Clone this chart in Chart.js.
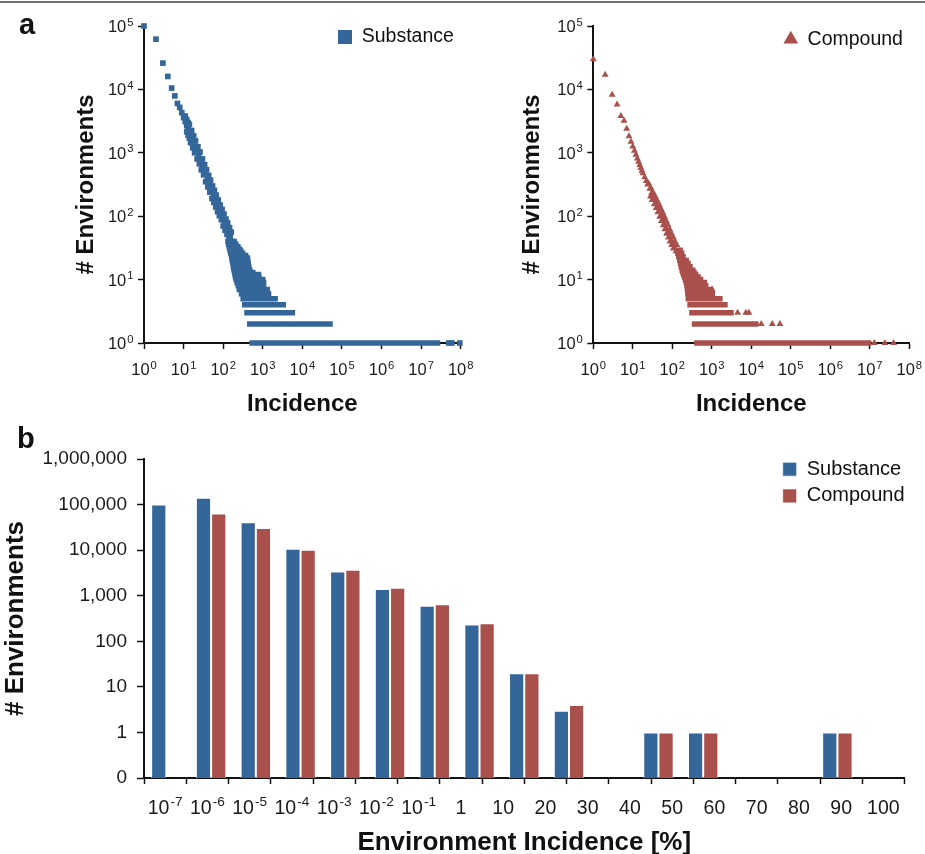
<!DOCTYPE html>
<html>
<head>
<meta charset="utf-8">
<script src="https://cdn.jsdelivr.net/npm/chart.js@4.4.1/dist/chart.umd.min.js"></script>
<style>
  html, body { margin: 0; padding: 0; background: #fff; }
  #page { position: relative; width: 925px; height: 854px; overflow: hidden; font-family: "Liberation Sans", Arial, sans-serif; }
  .rule { position: absolute; left: 0; top: 1px; width: 925px; height: 2px; background: #707070; }
  .panel { position: absolute; font-weight: bold; font-size: 29px; line-height: 29px; color: #111; }
  .box { position: absolute; }
</style>
</head>
<body>
<div id="page">
  <div class="rule"></div>
  <div class="box" style="left:0;top:0"><canvas id="chart_sub" width="480" height="425"></canvas></div>
  <div class="box" style="left:460px;top:0"><canvas id="chart_cmp" width="465" height="425"></canvas></div>
  <div class="box" style="left:0;top:425px"><canvas id="chart_bins" width="925" height="429"></canvas></div>
  <div class="panel" style="left:19px;top:10px">a</div>
  <div class="panel" style="left:17px;top:424px">b</div>
</div>
<script>
const FONT = '"Liberation Sans", Arial, sans-serif';
const BLUE = "#346699";
const RED = "#a9504c";

// ---- panel a: incidence vs number of environments (log-log) ----
// "^" marks the exponent, drawn raised
const decadeTicks = [1, 10, 100, 1e3, 1e4, 1e5, 1e6, 1e7, 1e8];
const decadeLabels = ["10^0", "10^1", "10^2", "10^3", "10^4", "10^5", "10^6", "10^7", "10^8"];
const envTicks = [1, 10, 100, 1e3, 1e4, 1e5];
const envLabels = ["10^0", "10^1", "10^2", "10^3", "10^4", "10^5"];

// [incidence, # environments]
const substancePoints = [
  [1, 100000], [2, 62000], [3, 26000], [4, 16000], [5, 10500], [6, 7900], [7, 6000],
  [8, 5200], [9, 4300], [10, 3600], [11, 3100], [12, 2700], [13, 2400], [14, 2150],
  [15, 1900], [16, 1700], [17, 1550], [18, 1430], [19, 1300], [20, 1200], [22, 1040],
  [24, 900], [26, 790], [28, 700], [30, 620], [33, 530], [36, 460], [40, 385], [44, 330],
  [48, 285], [52, 250], [57, 215], [62, 190], [68, 165], [75, 140], [82, 123], [90, 106],
  [100, 90], [110, 78], [120, 68], [130, 59], [140, 52], [150, 47], [165, 40],
  [11, 3800], [12, 3350], [13, 3000], [14, 2800], [16, 2250], [18, 1850], [20, 1550],
  [23, 1250], [26, 1030], [30, 800],
  [34, 650], [38, 540], [43, 440], [48, 370], [54, 300], [60, 255], [67, 215], [75, 180],
  [84, 150], [94, 128], [105, 108], [118, 90], [130, 78], [145, 66], [160, 56],
  [12, 2150], [13, 1900], [14, 1700], [15, 1450], [17, 1200], [19, 1000], [22, 800],
  [25, 670], [28, 540], [32, 450],
  [36, 350], [41, 290], [46, 240], [52, 190], [58, 165], [65, 140], [72, 118], [80, 102],
  [90, 88], [100, 70], [112, 60], [125, 52], [140, 46], [155, 40],
  [5.0e7, 1], [6.0e7, 1], [9.5e7, 1]
];
// runs of points sharing the same count (the horizontal rows)
const substanceRowY = [1, 2, 3, 4, 5, 6, 7, 8, 9, 10, 11, 12, 13, 14, 15, 16, 18, 20, 22, 24, 26, 28, 30, 33, 36, 40];
const substanceRowFrom = [540, 470, 400, 350, 320, 290, 255, 240, 225, 212, 205, 200, 195, 190, 185, 182, 176, 170, 166, 162, 157, 152, 148, 142, 137, 132];
const substanceRowTo = [2.6e7, 50000, 5600, 3300, 2050, 1400, 1300, 1050, 1050, 1000, 800, 780, 560, 470, 450, 440, 430, 420, 410, 370, 310, 280, 260, 235, 210, 190];

const compoundPoints = [
  [1, 30000], [2, 17000], [3, 8200], [4, 5800], [5, 3800], [6, 3200], [7, 2400],
  [8, 1830], [9, 1500], [10, 1260], [11, 1075], [12, 930], [13, 810], [14, 720],
  [15, 640], [16, 575], [17, 520], [18, 475], [20, 410], [22, 358], [24, 317], [27, 270],
  [30, 232], [33, 203], [36, 180], [40, 156], [44, 136], [48, 119], [53, 102], [58, 88],
  [64, 76], [70, 66], [77, 57], [85, 48], [93, 42], [102, 37], [112, 32], [124, 28],
  [25, 330], [29, 275], [33, 235], [37, 205], [42, 175], [47, 150], [52, 130], [58, 112],
  [64, 97], [71, 83], [78, 72], [87, 61], [96, 53], [106, 46], [117, 40], [130, 35],
  [28, 205], [31, 180], [35, 155], [39, 135], [43, 115], [48, 98], [53, 84], [59, 72],
  [65, 62], [72, 53], [80, 46], [88, 40], [97, 35], [107, 31],
  [1020, 7], [4500, 3], [7300, 3], [8700, 3], [17800, 2], [34000, 2], [53000, 2],
  [1.3e7, 1], [2.4e7, 1], [4.0e7, 1]
];
const compoundRowY = [1, 2, 3, 4, 5, 6, 7, 8, 9, 10, 11, 12, 13, 14, 16, 18, 20, 23, 26, 29];
const compoundRowFrom = [420, 365, 315, 282, 255, 248, 242, 235, 225, 214, 204, 194, 186, 178, 169, 162, 155, 146, 138, 130];
const compoundRowTo = [9.3e6, 13000, 3050, 2150, 1600, 1030, 890, 700, 650, 520, 450, 390, 355, 330, 280, 250, 225, 187, 172, 158];

// ---- panel b: environment incidence bins ----
const binEdges = ["10^-7", "10^-6", "10^-5", "10^-4", "10^-3", "10^-2", "10^-1", "1", "10", "20", "30", "40", "50", "60", "70", "80", "90", "100"];
const substanceCounts = [100000, 142000, 41000, 10700, 3400, 1400, 600, 235, 20, 3, null, 1, 1, null, null, 1, null];
const compoundCounts = [null, 64000, 30500, 10200, 3700, 1500, 650, 248, 20, 4, null, 1, 1, null, null, 1, null];
const countTicks = [0.1, 1, 10, 100, 1e3, 1e4, 1e5, 1e6];
const countLabels = ["0", "1", "10", "100", "1,000", "10,000", "100,000", "1,000,000"];

Chart.defaults.font.family = FONT;
Chart.defaults.color = "#1a1a1a";
Chart.defaults.animation = false;

// puts the (vertical) chartArea legend at a fixed spot inside the plot
const legendAt = {
  id: "legendAt",
  afterLayout(chart, args, opts) {
    const lg = chart.legend;
    if (!lg || opts.x === undefined) return;
    lg.left = opts.x;
    lg.top = opts.y;
    lg.right = opts.x + 200;
    lg.bottom = opts.y + 120;
    lg.width = 200;
    lg.height = 120;
  }
};

// tick labels with a raised exponent ("10^5"), placed at the scale's tick pixels
function supTicks(specs) {
  return {
    id: "supTicks",
    afterDraw(chart) {
      const ctx = chart.ctx;
      specs.forEach((sp) => {
        const scale = chart.scales[sp.axis];
        const eSize = sp.size * sp.ratio;
        ctx.save();
        ctx.fillStyle = "#1a1a1a";
        ctx.textAlign = "left";
        ctx.textBaseline = "alphabetic";
        sp.values.forEach((v, i) => {
          const [base, exp] = sp.labels[i].split("^");
          ctx.font = sp.size + "px " + FONT;
          const bw = ctx.measureText(base).width;
          ctx.font = eSize + "px " + FONT;
          const ew = exp ? ctx.measureText(exp).width + 1 : 0;
          const p = scale.getPixelForValue(v);
          let x0, yb;
          if (scale.isHorizontal()) {
            x0 = p - (bw + ew) / 2;
            yb = scale.top + sp.offset;
          } else {
            x0 = scale.right - sp.offset - (bw + ew);
            yb = p + sp.size * 0.36;
          }
          ctx.font = sp.size + "px " + FONT;
          ctx.fillText(base, x0, yb);
          if (exp) {
            ctx.font = eSize + "px " + FONT;
            ctx.fillText(exp, x0 + bw + 1, yb - sp.size * sp.raise);
          }
        });
        ctx.restore();
      });
    }
  };
}

const toXY = (pairs) => pairs.map((p) => ({ x: p[0], y: p[1] }));
const rowSegments = (ys, from, to) =>
  ys.flatMap((y, i) => [{ x: from[i], y: y }, { x: to[i], y: y }, { x: to[i], y: null }]);

const axisGrid = { drawOnChartArea: false, tickLength: 6, tickColor: "#111", tickWidth: 1.5 };
const axisBorder = { color: "#111", width: 2 };

function incidenceChart(id, o) {
  return new Chart(document.getElementById(id), {
    type: "scatter",
    data: {
      datasets: [
        {
          label: o.label,
          data: toXY(o.points),
          pointStyle: o.style,
          pointRadius: 4,
          pointBorderWidth: 0,
          backgroundColor: o.color,
          borderColor: o.color,
          clip: false,
        },
        {
          label: "rows",
          data: rowSegments(o.rowY, o.rowFrom, o.rowTo),
          showLine: true,
          pointRadius: 0,
          borderWidth: 5.5,
          borderColor: o.color,
          borderCapStyle: "square",
          clip: false,
        },
      ],
    },
    options: {
      responsive: false,
      layout: { padding: { left: 0, top: 26, right: o.padRight, bottom: 0 } },
      plugins: {
        legend: {
          position: "chartArea",
          align: "start",
          labels: {
            filter: (item) => item.datasetIndex === 0,
            usePointStyle: true,
            boxWidth: 14,
            boxHeight: o.boxH,
            padding: 4,
            textAlign: "left",
            color: "#111",
            font: { size: 19.5 },
          },
        },
        tooltip: { enabled: false },
        legendAt: o.legendAt,
      },
      scales: {
        x: {
          type: "logarithmic",
          min: 1,
          max: 1e8,
          afterBuildTicks: (s) => { s.ticks = decadeTicks.map((v) => ({ value: v })); },
          afterFit: (s) => { s.height = 82; },
          ticks: { display: false },
          grid: axisGrid,
          border: axisBorder,
          title: { display: true, text: "Incidence", color: "#111", font: { size: 24, weight: "bold" }, padding: { top: 0, bottom: 6.5 } },
        },
        y: {
          type: "logarithmic",
          min: 1,
          max: 1e5,
          afterBuildTicks: (s) => { s.ticks = envTicks.map((v) => ({ value: v })); },
          afterFit: (s) => { s.width = o.yWidth; },
          ticks: { display: false },
          grid: axisGrid,
          border: axisBorder,
          title: { display: true, text: "# Environments", color: "#111", font: { size: 24, weight: "bold" }, padding: { top: o.titlePad, bottom: 0 } },
        },
      },
    },
    plugins: [
      legendAt,
      supTicks([
        { axis: "x", values: decadeTicks, labels: decadeLabels, size: 16.5, ratio: 0.68, raise: 0.38, offset: 32 },
        { axis: "y", values: envTicks, labels: envLabels, size: 16.5, ratio: 0.68, raise: 0.38, offset: 10.5 },
      ]),
    ],
  });
}

incidenceChart("chart_sub", {
  label: "Substance", color: BLUE, style: "rect", boxH: 14,
  points: substancePoints, rowY: substanceRowY, rowFrom: substanceRowFrom, rowTo: substanceRowTo,
  padRight: 19.3, yWidth: 144, titlePad: 71.6, legendAt: { x: 334, y: 23.3 },
});

incidenceChart("chart_cmp", {
  label: "Compound", color: RED, style: "triangle", boxH: 12,
  points: compoundPoints, rowY: compoundRowY, rowFrom: compoundRowFrom, rowTo: compoundRowTo,
  padRight: 15.7, yWidth: 133.3, titlePad: 58.1, legendAt: { x: 319.8, y: 25.4 },
});

// bins sit between the edge labels
const binNames = binEdges.slice(0, -1).map((e, i) => e + "–" + binEdges[i + 1]);
const binEdgeValues = binEdges.map((_, i) => i);

new Chart(document.getElementById("chart_bins"), {
  type: "bar",
  data: {
    labels: binNames,
    datasets: [
      { label: "Substance", data: substanceCounts, backgroundColor: BLUE, borderColor: "rgba(255,255,255,0.75)", borderWidth: 1 },
      { label: "Compound", data: compoundCounts, backgroundColor: RED, borderColor: "rgba(255,255,255,0.75)", borderWidth: 1 },
    ],
  },
  options: {
    responsive: false,
    layout: { padding: { left: 0, top: 34, right: 20.5, bottom: 0 } },
    datasets: { bar: { categoryPercentage: 0.68, barPercentage: 1 } },
    plugins: {
      legend: {
        position: "chartArea",
        align: "start",
        labels: { boxWidth: 14, boxHeight: 14, padding: 6.7, textAlign: "left", color: "#111", font: { size: 20 } },
      },
      tooltip: { enabled: false },
      legendAt: { x: 776, y: 27.5 },
    },
    scales: {
      x: { display: false, offset: true },
      xb: {
        type: "linear",
        position: "bottom",
        min: 0,
        max: binEdges.length - 1,
        afterBuildTicks: (s) => { s.ticks = binEdgeValues.map((v) => ({ value: v })); },
        afterFit: (s) => { s.height = 76; },
        ticks: { display: false },
        grid: axisGrid,
        border: axisBorder,
        title: { display: true, text: "Environment Incidence [%]", color: "#111", font: { size: 26, weight: "bold", lineHeight: 0.8 }, padding: { top: 0, bottom: 0.6 } },
      },
      y: {
        type: "logarithmic",
        min: 0.1,
        max: 1e6,
        afterBuildTicks: (s) => { s.ticks = countTicks.map((v) => ({ value: v })); },
        afterFit: (s) => { s.width = 144; },
        ticks: { autoSkip: false, padding: 10, color: "#1a1a1a", font: { size: 19 }, callback: (v, i) => countLabels[i] },
        grid: Object.assign({}, axisGrid, { tickLength: 7 }),
        border: axisBorder,
        title: { display: true, text: "# Environments", color: "#111", font: { size: 26, weight: "bold", lineHeight: 0.8 }, padding: { top: 5.6, bottom: 0 } },
      },
    },
  },
  plugins: [
    legendAt,
    supTicks([
      { axis: "xb", values: binEdgeValues, labels: binEdges, size: 19.5, ratio: 0.7, raise: 0.4, offset: 36 },
    ]),
  ],
});
</script>
</body>
</html>
